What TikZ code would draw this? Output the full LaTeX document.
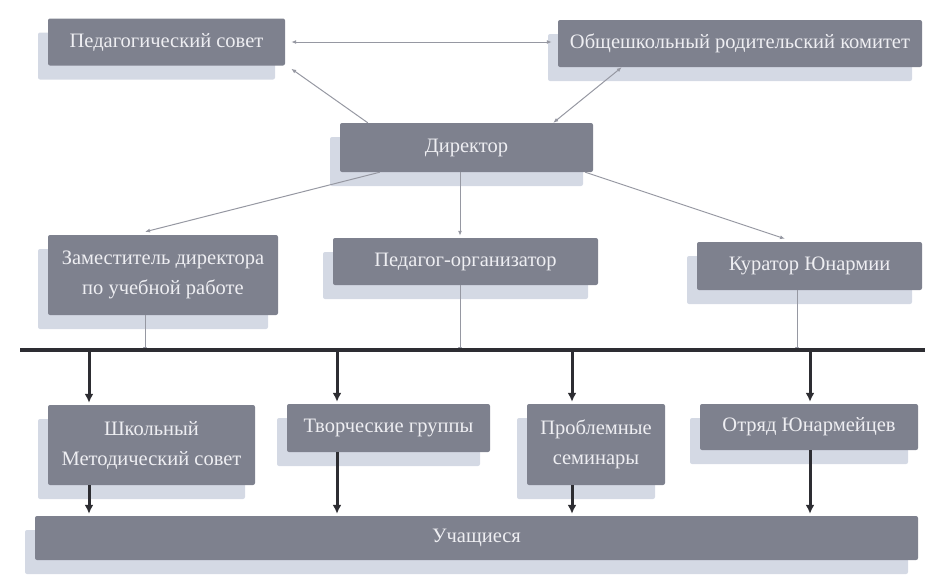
\documentclass[tikz,border=0pt]{standalone}
\usepackage{fontspec}
\setmainfont{Liberation Serif}
\usetikzlibrary{arrows.meta}
\usetikzlibrary{shadows}
\definecolor{boxc}{RGB}{126,129,142}
\definecolor{shc}{RGB}{212,217,228}
\definecolor{lnc}{RGB}{150,152,162}
\definecolor{barc}{RGB}{45,45,50}
\definecolor{txc}{RGB}{238,238,242}
\tikzset{b/.style={fill=boxc, text=txc, inner sep=0pt, align=center, rounded corners=2pt,
    font=\fontsize{20.5}{30}\selectfont,
    general shadow={fill=shc, shadow xshift=-10pt, shadow yshift=-14pt}}}
\tikzset{ln/.style={draw=lnc, line width=1pt, -{Latex[length=5pt,width=4pt]}}}
\tikzset{hv/.style={draw=barc, line width=3pt, -{Latex[length=9pt,width=9pt]}}}

\begin{document}
\begin{tikzpicture}[x=1pt, y=-1pt]
  \useasboundingbox (0,0) rectangle (925,574);
  % top level
  \node[b, minimum width=237pt, minimum height=47pt] (PS) at (166.5,42) {Педагогический совет};
  \node[b, minimum width=364pt, minimum height=47pt] (OK) at (740,43.5) {Общешкольный родительский комитет};
  \node[b, minimum width=253pt, minimum height=49pt] (DIR) at (466.5,147.5) {Директор};
  % second level
  \node[b, minimum width=230pt, minimum height=80pt] (ZAM) at (163,275) {Заместитель директора\\по учебной работе};
  \node[b, minimum width=265pt, minimum height=47pt] (PO) at (465.5,261.5) {Педагог-организатор};
  \node[b, minimum width=225pt, minimum height=48pt] (KU) at (809.5,266) {Куратор Юнармии};
  % bar
  \coordinate (barL) at (20,350);
  \coordinate (barR) at (925,350);
  \coordinate (t1) at (145,350);
  \coordinate (t2) at (460,350);
  \coordinate (t3) at (797,350);
  \coordinate (b1) at (89,350);
  \coordinate (b2) at (337,350);
  \coordinate (b3) at (572,350);
  \coordinate (b4) at (810,350);
  % third level
  \node[b, minimum width=207pt, minimum height=80pt] (SMS) at (151.5,445) {Школьный\\Методический совет};
  \node[b, minimum width=203pt, minimum height=48pt] (TG) at (388.5,428) {Творческие группы};
  \node[b, minimum width=138pt, minimum height=81pt] (PSEM) at (596,444.5) {Проблемные\\семинары};
  \node[b, minimum width=218pt, minimum height=46pt] (OU) at (809,427) {Отряд Юнармейцев};
  \node[b, minimum width=883pt, minimum height=44pt] (UCH) at (476.5,538) {Учащиеся};

  % thin links
  \draw[ln, {Latex[length=5pt,width=4pt]}-{Latex[length=5pt,width=4pt]}]
    ([xshift=6pt]PS.east) -- ([xshift=-6pt]PS.east -| OK.west);
  \draw[ln] ([xshift=28pt]DIR.north west) -- ([shift={(6pt,-3pt)}]PS.south east);
  \draw[ln, {Latex[length=5pt,width=4pt]}-{Latex[length=5pt,width=4pt]}]
    ([xshift=-40pt]DIR.north east) -- ([xshift=64pt]OK.south west);
  \draw[ln] ([xshift=40pt]DIR.south west) -- ([yshift=3pt]ZAM.north -| t1);
  \draw[ln] (DIR.south -| t2) -- ([yshift=2pt]PO.north -| t2);
  \draw[ln] ([xshift=-8pt]DIR.south east) -- ([yshift=3pt]KU.north -| {(785,0)});
  \draw[ln] (ZAM.south -| t1) -- ([yshift=-2pt]t1);
  \draw[ln] (PO.south -| t2) -- ([yshift=-2pt]t2);
  \draw[ln] (KU.south -| t3) -- ([yshift=-2pt]t3);

  % bar and thick links
  \draw[draw=barc, line width=3.5pt] (barL) -- (barR);
  \draw[hv] (b1) -- ([yshift=2pt]SMS.north -| b1);
  \draw[hv] (b2) -- ([yshift=2pt]TG.north -| b2);
  \draw[hv] (b3) -- ([yshift=2pt]PSEM.north -| b3);
  \draw[hv] (b4) -- ([yshift=2pt]OU.north -| b4);
  \draw[hv] (SMS.south -| b1) -- ([yshift=2pt]UCH.north -| b1);
  \draw[hv] (TG.south -| b2) -- ([yshift=2pt]UCH.north -| b2);
  \draw[hv] (PSEM.south -| b3) -- ([yshift=2pt]UCH.north -| b3);
  \draw[hv] (OU.south -| b4) -- ([yshift=2pt]UCH.north -| b4);
\end{tikzpicture}
\end{document}
